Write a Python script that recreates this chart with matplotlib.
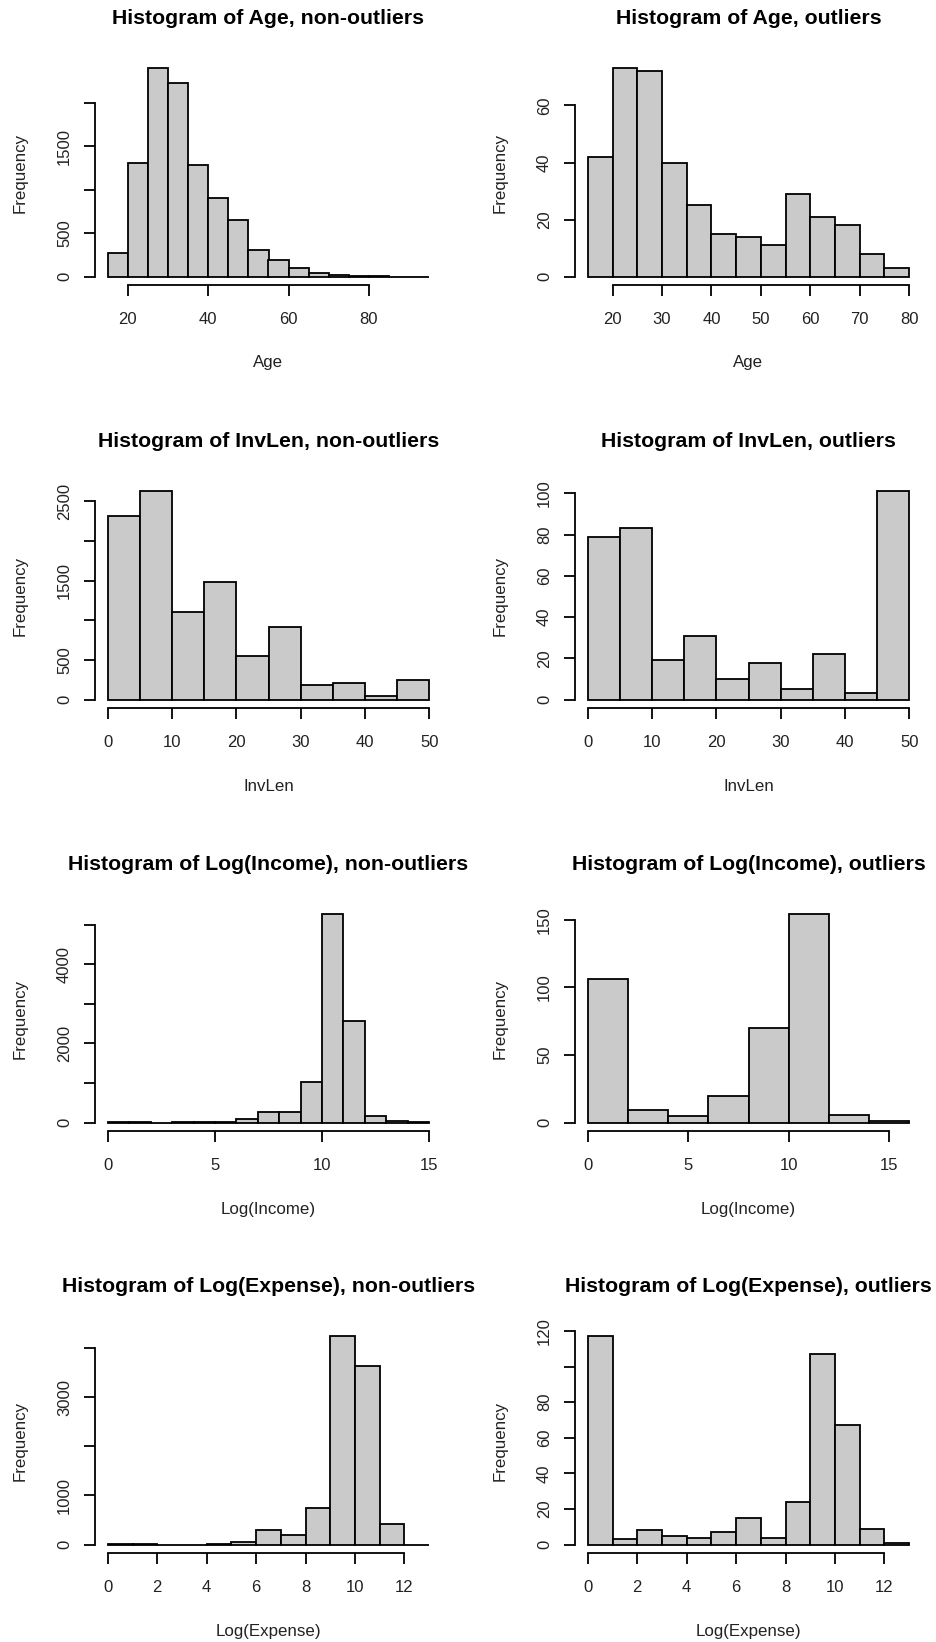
import numpy as np
import matplotlib
matplotlib.use("Agg")
import matplotlib.pyplot as plt

plt.rcParams['font.family'] = ['Liberation Sans', 'DejaVu Sans']

# ---- data (bin edges + counts) ----
age_non_edges = list(range(15, 100, 5))
age_non_counts = [267, 1309, 2393, 2225, 1279, 908, 649, 305, 191, 95, 38, 15, 8, 3, 1, 1]

age_out_edges = list(range(15, 85, 5))
age_out_counts = [42, 73, 72, 40, 25, 15, 14, 11, 29, 21, 18, 8, 3]

inv_non_edges = list(range(0, 55, 5))
inv_non_counts = [2314, 2623, 1105, 1481, 552, 912, 184, 209, 42, 243]

inv_out_edges = list(range(0, 55, 5))
inv_out_counts = [79, 83, 19, 31, 10, 18, 5, 22, 3, 101]

inc_non_edges = list(range(0, 16, 1))
inc_non_counts = [15, 5, 3, 8, 8, 20, 100, 260, 260, 1017, 5261, 2563, 168, 40, 5]

inc_out_edges = list(range(0, 18, 2))
inc_out_counts = [106, 9, 5, 20, 70, 154, 6, 1]

exp_non_edges = list(range(0, 14, 1))
exp_non_counts = [20, 5, 3, 3, 8, 54, 298, 203, 753, 4237, 3634, 427, 3]

exp_out_edges = list(range(0, 14, 1))
exp_out_counts = [117, 3, 8, 5, 4, 7, 15, 4, 24, 107, 67, 9, 1]

panels = [
    ("Histogram of Age, non-outliers", "Age", age_non_edges, age_non_counts,
     [20, 40, 60, 80], [0, 500, 1000, 1500, 2000], ["0", "500", "", "1500", ""]),
    ("Histogram of Age, outliers", "Age", age_out_edges, age_out_counts,
     [20, 30, 40, 50, 60, 70, 80], [0, 20, 40, 60], None),
    ("Histogram of InvLen, non-outliers", "InvLen", inv_non_edges, inv_non_counts,
     [0, 10, 20, 30, 40, 50], [0, 500, 1000, 1500, 2000, 2500], ["0", "500", "", "1500", "", "2500"]),
    ("Histogram of InvLen, outliers", "InvLen", inv_out_edges, inv_out_counts,
     [0, 10, 20, 30, 40, 50], [0, 20, 40, 60, 80, 100], None),
    ("Histogram of Log(Income), non-outliers", "Log(Income)", inc_non_edges, inc_non_counts,
     [0, 5, 10, 15], [0, 1000, 2000, 3000, 4000, 5000], ["0", "", "2000", "", "4000", ""]),
    ("Histogram of Log(Income), outliers", "Log(Income)", inc_out_edges, inc_out_counts,
     [0, 5, 10, 15], [0, 50, 100, 150], None),
    ("Histogram of Log(Expense), non-outliers", "Log(Expense)", exp_non_edges, exp_non_counts,
     [0, 2, 4, 6, 8, 10, 12], [0, 1000, 2000, 3000, 4000], ["0", "1000", "", "3000", ""]),
    ("Histogram of Log(Expense), outliers", "Log(Expense)", exp_out_edges, exp_out_counts,
     [0, 2, 4, 6, 8, 10, 12], [0, 20, 40, 60, 80, 100, 120], ["0", "20", "40", "60", "80", "", "120"]),
]

# ---- layout in pixels (figure is 936 x 1642 at dpi 100) ----
W, H = 936, 1642
col_left = [95, 575]
plot_w = 347
row_top = [60, 483, 906, 1328]
plot_h = 225

fig = plt.figure(figsize=(W / 100, H / 100), dpi=100)
fig.patch.set_facecolor("white")

for i, (title, xlab, edges, counts, xt, yt, ylabs) in enumerate(panels):
    r, c = divmod(i, 2)
    ax = fig.add_axes([col_left[c] / W, 1 - (row_top[r] + plot_h) / H, plot_w / W, plot_h / H])
    edges = np.array(edges, dtype=float)
    counts = np.array(counts, dtype=float)
    ax.bar(edges[:-1], counts, width=np.diff(edges), align="edge",
           color="#cacaca", edgecolor="black", linewidth=1.3)

    # R style 4% axis extension
    span = edges[-1] - edges[0]
    ax.set_xlim(edges[0] - 0.04 * span, edges[-1] + 0.04 * span)
    ymax = counts.max()
    ax.set_ylim(-0.04 * ymax, 1.04 * ymax)

    for s in ["top", "right"]:
        ax.spines[s].set_visible(False)
    ax.spines["left"].set_bounds(yt[0], yt[-1])
    ax.spines["bottom"].set_bounds(xt[0], xt[-1])
    ax.spines["left"].set_linewidth(1.3)
    ax.spines["bottom"].set_linewidth(1.3)

    ax.set_xticks(xt)
    ax.set_xticklabels([str(v) for v in xt], fontsize=12, color="#222222")
    ax.set_yticks(yt)
    ax.set_yticklabels(ylabs if ylabs else [str(v) for v in yt],
                       rotation=90, va="center", fontsize=12, color="#222222")
    ax.tick_params(axis="both", direction="out", length=8, width=1.3)
    ax.tick_params(axis="x", pad=11.5)
    ax.tick_params(axis="y", pad=8.5)

    ax.set_xlabel(xlab, fontsize=12.2, color="#222222")
    ax.xaxis.set_label_coords(0.5, -78 / plot_h)
    ax.xaxis.label.set_va("center")
    ax.set_ylabel("Frequency", fontsize=12.2, color="#222222")
    ax.yaxis.set_label_coords(-75 / plot_w, 0.5)
    ax.yaxis.label.set_va("center")

    ax.set_title(title, fontsize=15.3, fontweight="bold", y=1 + 42 / plot_h, va="center", pad=0)

fig.savefig("out.png", dpi=100)
